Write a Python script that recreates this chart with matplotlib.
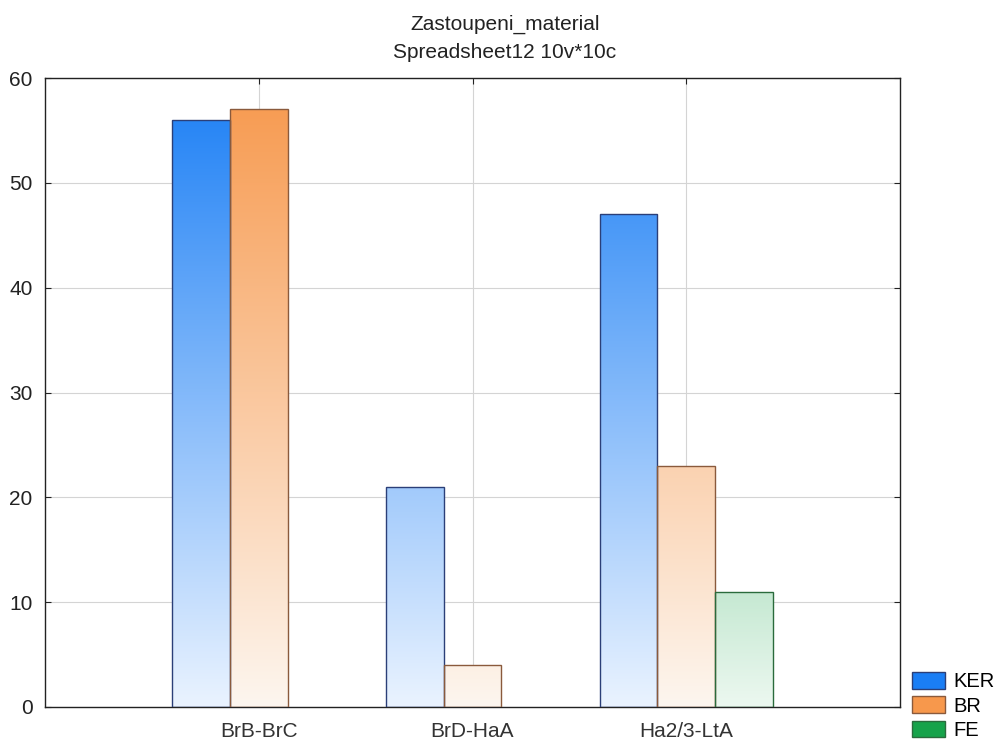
import matplotlib
matplotlib.use("Agg")
import matplotlib.pyplot as plt
import numpy as np
from matplotlib.colors import to_rgb
from matplotlib.patches import Patch

plt.rcParams['font.family'] = ['Liberation Sans', 'DejaVu Sans']

categories = ["BrB-BrC", "BrD-HaA", "Ha2/3-LtA"]
series = ["KER", "BR", "FE"]
KER = [56, 21, 47]
BR = [57, 4, 23]
FE = [0, 0, 11]
values = [KER, BR, FE]

face_colors = ["#1a7ef5", "#f7984c", "#16a34a"]
light_colors = ["#eaf3ff", "#fdf6ef", "#ecf8f0"]
edge_colors = ["#2b3f78", "#8a5a3c", "#2a6b3c"]

fig = plt.figure(figsize=(9.98, 7.42), dpi=100)
ax = fig.add_axes([45/998, 1-707/742, (900-45)/998, (707-78)/742])

ymax = 60
ax.set_xlim(-1, 3)
ax.set_ylim(0, ymax)
width = 0.27
x = np.arange(len(categories))
offsets = [-width, 0, width]

def grad_img(color, light):
    c = np.array(to_rgb(color))
    w = np.array(to_rgb(light))
    t = np.linspace(0, 1, 256)[:, None]  # 0 bottom -> 1 top
    img = w[None, :] * (1 - t) + c[None, :] * t
    return img[:, None, :]

for i, (vals, fc, lc, ec) in enumerate(zip(values, face_colors, light_colors, edge_colors)):
    bars = ax.bar(x + offsets[i], vals, width, facecolor='none', edgecolor=ec,
                  linewidth=1.0, zorder=3)
    img = grad_img(fc, lc)
    for b, v in zip(bars, vals):
        if v <= 0:
            b.set_visible(False)
            continue
        x0 = b.get_x()
        im = ax.imshow(img, extent=(x0, x0 + b.get_width(), 0, ymax), origin='lower',
                       aspect='auto', zorder=2, interpolation='bilinear')
        im.set_clip_path(b)

ax.set_xlim(-1, 3)
ax.set_ylim(0, ymax)
ax.set_xticks(x)
ax.set_xticklabels(categories)
ax.set_yticks(np.arange(0, 61, 10))
ax.grid(True, color='#d4d4d4', linewidth=0.8, zorder=0)
ax.set_axisbelow(True)
ax.tick_params(direction='in', length=4, top=True, right=True, labelsize=15,
               colors='#222222')
ax.tick_params(axis='y', pad=9)
ax.tick_params(axis='x', pad=11, labelcolor='#333333')
for s in ax.spines.values():
    s.set_color('#222222')
    s.set_linewidth(1.0)

fig.text(505/998, 1-24/742, "Zastoupeni_material", ha='center', va='center', fontsize=15, color='#222222')
fig.text(505/998, 1-53/742, "Spreadsheet12 10v*10c", ha='center', va='center', fontsize=15, color='#222222')

handles = [Patch(facecolor=fc, edgecolor=ec) for fc, ec in zip(face_colors, edge_colors)]
fig.legend(handles, series, loc='upper left', bbox_to_anchor=(912/998, 1-672/742),
           frameon=False, fontsize=14.5, handlelength=1.65, handleheight=0.9,
           labelspacing=0.25, handletextpad=0.4, borderpad=0, borderaxespad=0)

fig.savefig("out.png", dpi=100)
